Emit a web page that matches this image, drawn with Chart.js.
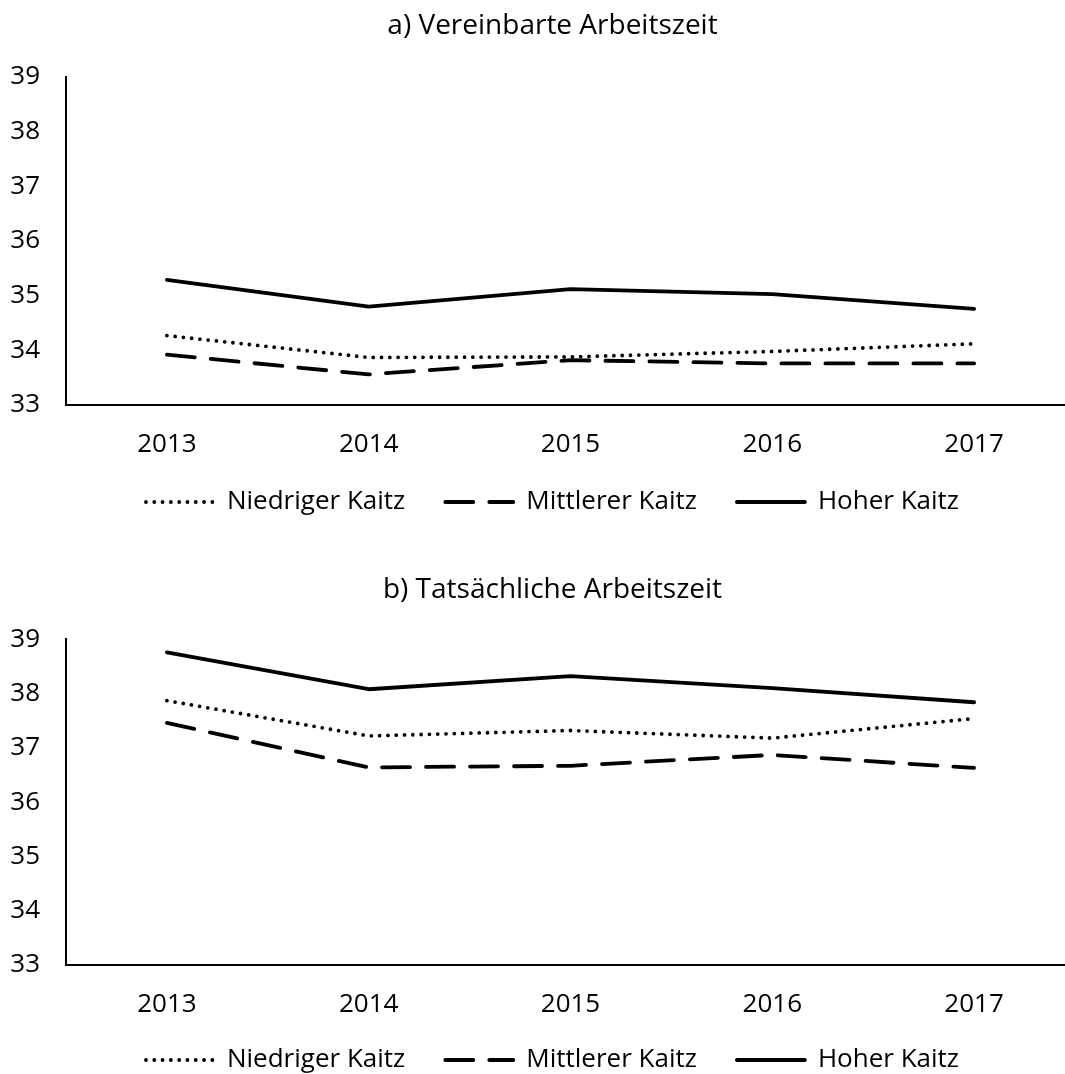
<!DOCTYPE html>
<html lang="de">
<head>
    <meta charset="UTF-8">
    <title>Arbeitszeit nach Kaitz-Index</title>
    <style>
        body { margin: 0; background: #fff; overflow: hidden; }
        .panel { position: absolute; left: 0; width: 1075px; }
        #panelA { top: 0; height: 537px; }
        #panelB { top: 537px; height: 560px; }
    </style>
</head>
<body>
    <div class="panel" id="panelA"><canvas id="chartA" width="1075" height="537"></canvas></div>
    <div class="panel" id="panelB"><canvas id="chartB" width="1075" height="560"></canvas></div>

    <script src="https://cdn.jsdelivr.net/npm/chart.js"></script>
    <script>
        // Werte
        const years = ['2013', '2014', '2015', '2016', '2017'];
        const seriesNames = ['Niedriger Kaitz', 'Mittlerer Kaitz', 'Hoher Kaitz'];

        // a) Vereinbarte Arbeitszeit
        const agreedLow  = [34.27, 33.87, 33.88, 33.98, 34.12];
        const agreedMid  = [33.92, 33.56, 33.82, 33.76, 33.76];
        const agreedHigh = [35.29, 34.80, 35.12, 35.03, 34.76];

        // b) Tatsächliche Arbeitszeit
        const actualLow  = [37.87, 37.22, 37.32, 37.18, 37.54];
        const actualMid  = [37.46, 36.64, 36.67, 36.87, 36.63];
        const actualHigh = [38.76, 38.08, 38.32, 38.10, 37.84];

        const yMin = 33, yMax = 39, yStep = 1;

        Chart.defaults.font.family = "'Open Sans', sans-serif";
        Chart.defaults.color = '#000';

        const lineStyles = [
            { borderDash: [0, 8.3], borderCapStyle: 'round', borderWidth: 3.8 },
            { borderDash: [28, 16], borderCapStyle: 'round', borderWidth: 3.8 },
            { borderDash: [], borderCapStyle: 'round', borderWidth: 3.8 }
        ];

        // Legende: Linienmuster des Datensatzes übernehmen
        function legendLabels(chart) {
            const items = Chart.defaults.plugins.legend.labels.generateLabels(chart);
            items.forEach(it => {
                const ds = chart.data.datasets[it.datasetIndex];
                it.lineDash = ds.borderDash;
                it.lineCap = ds.borderCapStyle;
                it.lineWidth = ds.borderWidth;
                it.strokeStyle = '#000';
            });
            return items;
        }

        // keine Beschneidung der Achsenbeschriftung
        const noClip = () => null;

        function makeChart(id, title, values, lay) {
            const datasets = values.map((v, i) => Object.assign({
                label: seriesNames[i],
                data: v,
                borderColor: '#000',
                backgroundColor: '#000',
                pointRadius: 0,
                tension: 0,
                borderJoinStyle: 'round'
            }, lineStyles[i]));

            return new Chart(document.getElementById(id), {
                type: 'line',
                data: { labels: years, datasets: datasets },
                options: {
                    responsive: false,
                    animation: false,
                    layout: { padding: { left: 30, right: 0, top: 0, bottom: lay.padBottom } },
                    plugins: {
                        title: {
                            display: true,
                            text: title,
                            color: '#000',
                            font: { size: 28, weight: 'normal' },
                            padding: { top: lay.titleTop, bottom: lay.titleBottom }
                        },
                        legend: {
                            position: 'bottom',
                            labels: {
                                usePointStyle: true,
                                pointStyle: 'line',
                                pointStyleWidth: 68,
                                padding: 40,
                                font: { size: 26 },
                                color: '#000',
                                generateLabels: legendLabels
                            }
                        },
                        tooltip: { enabled: false }
                    },
                    scales: {
                        x: {
                            offset: true,
                            grid: { display: false, drawTicks: false },
                            border: { display: true, color: '#000', width: 2 },
                            ticks: { font: { size: 26 }, padding: 24, maxRotation: 0 },
                            afterFit: s => { s.height = lay.xHeight; s._computeLabelArea = noClip; }
                        },
                        y: {
                            min: yMin,
                            max: yMax,
                            grid: { display: false, drawTicks: false },
                            border: { display: true, color: '#000', width: 2 },
                            ticks: { stepSize: yStep, font: { size: 26 }, padding: 26 },
                            afterFit: s => { s.width = 36; s._computeLabelArea = noClip; }
                        }
                    }
                }
            });
        }

        makeChart('chartA', 'a) Vereinbarte Arbeitszeit', [agreedLow, agreedMid, agreedHigh],
            { titleTop: 9.2, titleBottom: 34.2, padBottom: 12, xHeight: 44 });
        makeChart('chartB', 'b) Tatsächliche Arbeitszeit', [actualLow, actualMid, actualHigh],
            { titleTop: 36.2, titleBottom: 32.5, padBottom: 14, xHeight: 42 });
    </script>
</body>
</html>
